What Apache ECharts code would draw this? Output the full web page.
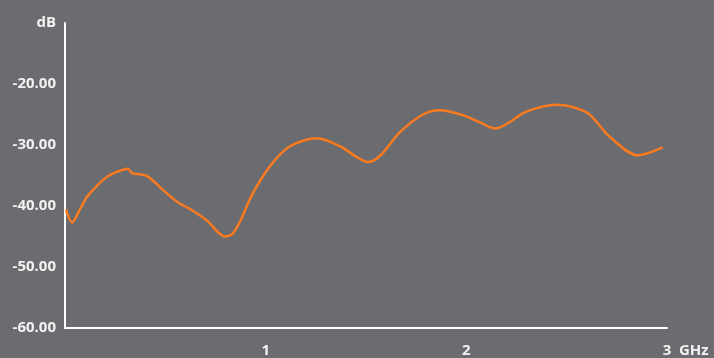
<!DOCTYPE html>
<html><head><meta charset="utf-8">
<script src="https://cdn.jsdelivr.net/npm/echarts@6/dist/echarts.min.js"></script>
<style>html,body{margin:0;padding:0;background:#6b6c70;}#c{width:714px;height:358px;}</style>
</head><body><div id="c"></div>
<script>
const freqGHz = [0.005,0.035,0.075,0.11,0.159,0.209,0.259,0.314,0.334,0.409,0.473,0.558,0.623,0.708,0.797,0.837,0.88,0.93,1.021,1.121,1.256,1.37,1.455,1.51,1.569,1.669,1.784,1.868,1.983,2.068,2.143,2.302,2.451,2.601,2.716,2.855,2.979];
const levelDb = [-40.6,-42.7,-40.5,-38.5,-36.7,-35.2,-34.4,-33.9,-34.6,-35.1,-36.9,-39.3,-40.5,-42.4,-45.0,-44.5,-42.0,-38.3,-33.5,-30.2,-28.9,-30.2,-32.0,-32.8,-31.8,-27.9,-25.0,-24.3,-25.1,-26.3,-27.3,-24.5,-23.4,-24.7,-28.7,-31.7,-30.4];
const xTicks = [0,1,2,3];
const yTicks = [-60,-50,-40,-30,-20,-10];
const yUnit = 'dB', xUnit = 'GHz';

const chart = echarts.init(document.getElementById('c'));
const txt = {color:'#f2f2f2', fontFamily:'Open Sans', fontWeight:'bold', fontSize:15};
chart.setOption({
  backgroundColor:'#6b6c70',
  animation:false,
  grid:{left:65,right:47,top:23,bottom:28},
  xAxis:{type:'value',min:0,max:3,interval:1,
    axisLine:{lineStyle:{color:'#ffffff',width:2}},
    axisTick:{show:false},splitLine:{show:false},
    axisLabel:Object.assign({margin:15,formatter:v=>v===0?'':String(v)},txt),
    name:xUnit,nameLocation:'end',nameGap:12,
    nameTextStyle:Object.assign({align:'left',verticalAlign:'top',padding:[15,0,0,0]},txt)},
  yAxis:{type:'value',min:-60,max:-10,interval:10,
    axisLine:{show:true,lineStyle:{color:'#ffffff',width:2}},
    axisTick:{show:false},splitLine:{show:false},
    axisLabel:Object.assign({margin:9,formatter:v=>v===-10?yUnit:v.toFixed(2)},txt)},
  series:[{type:'line',data:freqGHz.map((f,i)=>[f,levelDb[i]]),smooth:0.3,showSymbol:false,
    lineStyle:{color:'#fb7a1e',width:2.5}}]
});
</script></body></html>
